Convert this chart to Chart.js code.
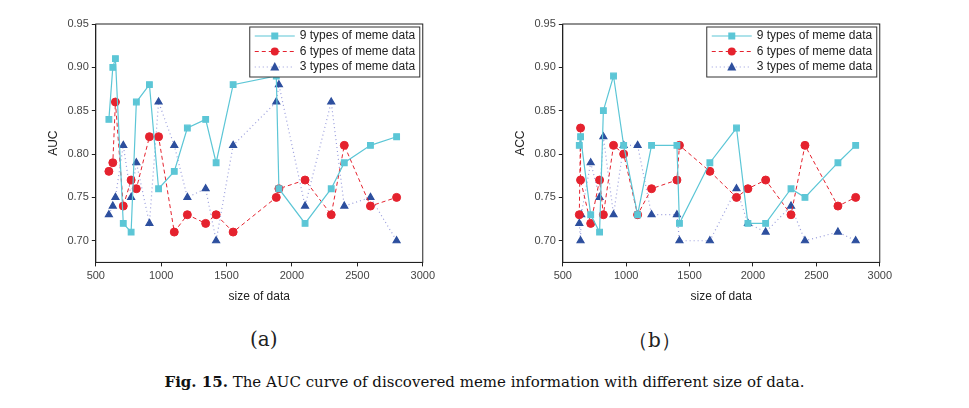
<!DOCTYPE html>
<html>
<head>
<meta charset="utf-8">
<script src="https://cdn.jsdelivr.net/npm/chart.js@4"></script>
<style>
  body { margin: 0; background: #fff; width: 969px; height: 408px; position: relative; font-family: "Liberation Sans", Arial, sans-serif; }
  .wrap { position: absolute; top: 8px; height: 300px; }
  .lbl { position: absolute; font-size: 20px; font-family: "DejaVu Serif", serif; color: #222; }
  #cap { position: absolute; top: 373px; left: 0; width: 969px; text-align: center; font-size: 15px; font-family: "DejaVu Serif", serif; color: #111; }
</style>
</head>
<body>
<div class="wrap" style="left:42px"><canvas id="auc"></canvas></div>
<div class="wrap" style="left:509px"><canvas id="acc"></canvas></div>
<div class="lbl" style="left:250px;top:327px">(a)</div>
<div class="lbl" style="left:628px;top:327px">（b）</div>
<div id="cap"><b>Fig. 15.</b> The AUC curve of discovered meme information with different size of data.</div>
<script>
const seriesNames = ["9 types of meme data", "6 types of meme data", "3 types of meme data"];
const yTicks = [0.70, 0.75, 0.80, 0.85, 0.90, 0.95];

// (a) AUC
const aucX9 = [600, 630, 650, 710, 770, 810, 910, 980, 1100, 1200, 1340, 1420, 1550, 1880, 1900, 2100, 2300, 2400, 2600, 2800];
const aucY9 = [0.84, 0.90, 0.91, 0.72, 0.71, 0.86, 0.88, 0.76, 0.78, 0.83, 0.84, 0.79, 0.88, 0.89, 0.76, 0.72, 0.76, 0.79, 0.81, 0.82];
const aucX6 = [600, 630, 650, 710, 770, 810, 910, 980, 1100, 1200, 1340, 1420, 1550, 1880, 1900, 2100, 2300, 2400, 2600, 2800];
const aucY6 = [0.78, 0.79, 0.86, 0.74, 0.77, 0.76, 0.82, 0.82, 0.71, 0.73, 0.72, 0.73, 0.71, 0.75, 0.76, 0.77, 0.73, 0.81, 0.74, 0.75];
const aucX3 = [600, 630, 650, 710, 770, 810, 910, 980, 1100, 1200, 1340, 1420, 1550, 1880, 1900, 2100, 2300, 2400, 2600, 2800];
const aucY3 = [0.73, 0.74, 0.75, 0.81, 0.75, 0.79, 0.72, 0.86, 0.81, 0.75, 0.76, 0.70, 0.81, 0.86, 0.88, 0.74, 0.86, 0.74, 0.75, 0.70];

// (b) ACC
const accX9 = [630, 640, 720, 790, 820, 900, 980, 1090, 1200, 1400, 1420, 1660, 1870, 1960, 2100, 2300, 2410, 2670, 2810];
const accY9 = [0.81, 0.82, 0.73, 0.71, 0.85, 0.89, 0.81, 0.73, 0.81, 0.81, 0.72, 0.79, 0.83, 0.72, 0.72, 0.76, 0.75, 0.79, 0.81];
const accX6 = [630, 640, 640, 720, 790, 820, 900, 980, 1090, 1200, 1400, 1420, 1660, 1870, 1960, 2100, 2300, 2410, 2670, 2810];
const accY6 = [0.73, 0.83, 0.77, 0.72, 0.77, 0.73, 0.81, 0.80, 0.73, 0.76, 0.77, 0.81, 0.78, 0.75, 0.76, 0.77, 0.73, 0.81, 0.74, 0.75];
const accX3 = [630, 640, 645, 720, 790, 820, 900, 980, 1090, 1200, 1400, 1420, 1660, 1870, 1960, 2100, 2300, 2410, 2670, 2810];
const accY3 = [0.72, 0.70, 0.73, 0.79, 0.75, 0.82, 0.73, 0.81, 0.81, 0.73, 0.73, 0.70, 0.70, 0.76, 0.72, 0.71, 0.74, 0.70, 0.71, 0.70];

const styles = [
  { color: "#5cc6d6", line: "#5cc6d6", dash: [], shape: "rect", w: 1.2 },
  { color: "#e5222e", line: "#e5222e", dash: [4, 3], shape: "circle", w: 1 },
  { color: "#2d4f9e", line: "rgba(120,125,210,0.75)", dash: [1, 3], shape: "triangle", w: 1.2 }
];

function ds(xs, ys, i) {
  const s = styles[i];
  return {
    label: seriesNames[i],
    data: xs.map((x, k) => ({ x: x, y: ys[k] })),
    borderColor: s.line, backgroundColor: s.color, pointBorderColor: s.color,
    borderWidth: s.w, borderDash: s.dash, pointStyle: s.shape,
    pointRadius: 4, pointHoverRadius: 4, tension: 0
  };
}

const frameLegend = {
  id: "frameLegend",
  afterDraw(c) {
    const a = c.chartArea, ctx = c.ctx;
    ctx.save();
    ctx.strokeStyle = "#222"; ctx.lineWidth = 1; ctx.setLineDash([]);
    ctx.strokeRect(a.left, a.top, a.right - a.left, a.bottom - a.top);
    const w = 170, h = 50, x0 = a.right - w - 3, y0 = a.top + 3;
    ctx.fillStyle = "#fff"; ctx.fillRect(x0, y0, w, h);
    ctx.strokeStyle = "#333"; ctx.strokeRect(x0, y0, w, h);
    ctx.font = "12px 'Liberation Sans', Arial, sans-serif";
    ctx.textBaseline = "middle";
    styles.forEach((s, i) => {
      const y = y0 + 9 + i * 15.5;
      ctx.strokeStyle = s.line; ctx.lineWidth = s.w; ctx.setLineDash(s.dash);
      ctx.beginPath(); ctx.moveTo(x0 + 5, y); ctx.lineTo(x0 + 45, y); ctx.stroke();
      ctx.setLineDash([]);
      ctx.fillStyle = s.color;
      const cx = x0 + 25;
      ctx.beginPath();
      if (s.shape === "rect") ctx.rect(cx - 3.5, y - 3.5, 7, 7);
      else if (s.shape === "circle") ctx.arc(cx, y, 4, 0, Math.PI * 2);
      else { ctx.moveTo(cx, y - 5); ctx.lineTo(cx + 4.5, y + 3.5); ctx.lineTo(cx - 4.5, y + 3.5); ctx.closePath(); }
      ctx.fill();
      ctx.fillStyle = "#222";
      ctx.fillText(seriesNames[i], x0 + 50, y);
    });
    ctx.restore();
  }
};

function makeChart(id, yTitle, sets) {
  return new Chart(document.getElementById(id), {
    type: "line",
    data: { datasets: sets },
    plugins: [frameLegend],
    options: {
      responsive: false, animation: false, devicePixelRatio: 1,
      layout: { padding: { top: 16, right: 8 } },
      plugins: { legend: { display: false }, tooltip: { enabled: false } },
      scales: {
        x: {
          type: "linear", min: 500, max: 3000,
          border: { color: "#222" },
          grid: { display: true, drawOnChartArea: false, tickLength: 4, color: "#222" },
          ticks: { stepSize: 500, color: "#444", font: { size: 11 }, callback: v => String(v) },
          title: { display: true, text: "size of data", color: "#222", font: { size: 12 } }
        },
        y: {
          min: 0.675, max: 0.95,
          border: { color: "#222" },
          afterBuildTicks: sc => { sc.ticks = yTicks.map(v => ({ value: v })); },
          grid: { display: true, drawOnChartArea: false, tickLength: 4, color: "#222" },
          ticks: { color: "#444", font: { size: 11 }, callback: v => v.toFixed(2) },
          title: { display: true, text: yTitle, color: "#222", font: { size: 12 } }
        }
      }
    }
  });
}

function sizeCanvas(id, w) { const c = document.getElementById(id); c.width = w; c.height = 300; }
sizeCanvas("auc", 396); sizeCanvas("acc", 386);
makeChart("auc", "AUC", [ds(aucX9, aucY9, 0), ds(aucX6, aucY6, 1), ds(aucX3, aucY3, 2)]);
makeChart("acc", "ACC", [ds(accX9, accY9, 0), ds(accX6, accY6, 1), ds(accX3, accY3, 2)]);
</script>
</body>
</html>
